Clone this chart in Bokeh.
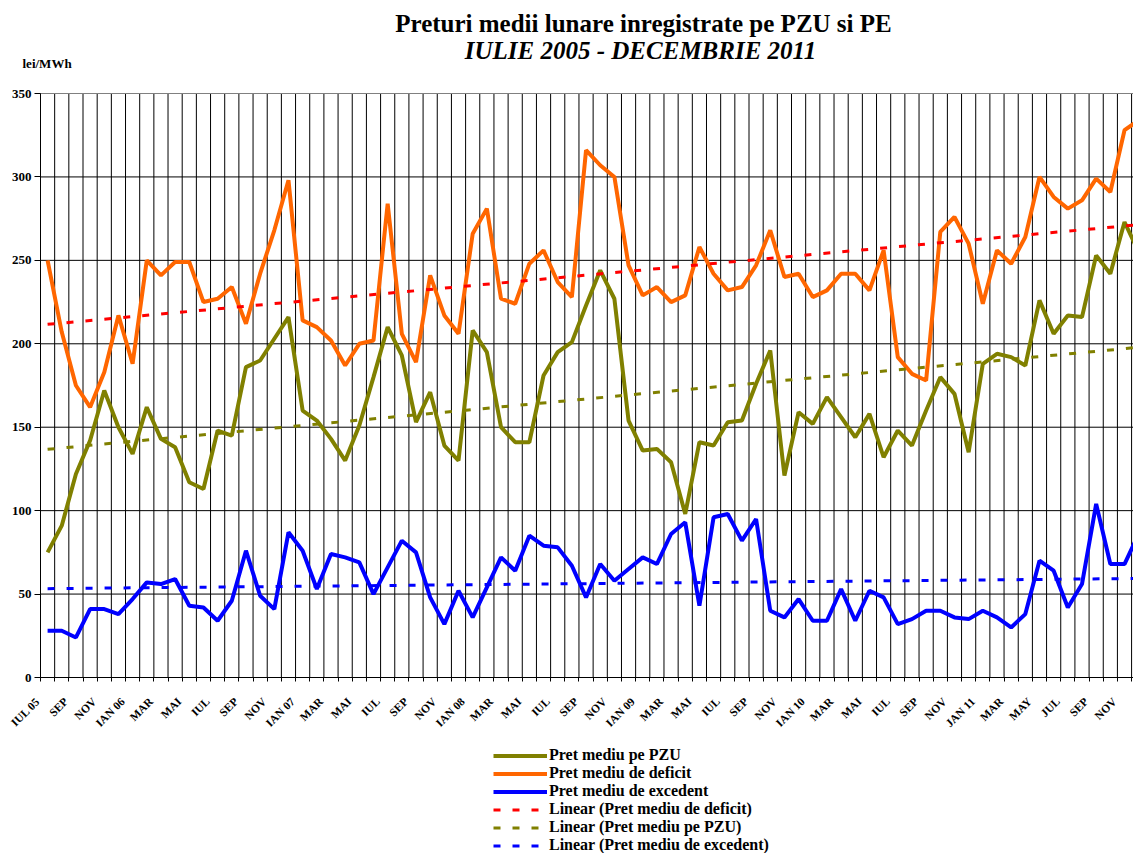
import numpy as np
from bokeh.plotting import figure
from bokeh.models import Range1d, FixedTicker, Label, Legend, LegendItem, ColumnDataSource
from bokeh.embed import file_html
from bokeh.resources import INLINE

# ---- data (monthly, Jul 2005 .. Dec 2011) ----
tick_labels = ["IUL 05", "SEP", "NOV",
               "IAN 06", "MAR", "MAI", "IUL", "SEP", "NOV",
               "IAN 07", "MAR", "MAI", "IUL", "SEP", "NOV",
               "IAN 08", "MAR", "MAI", "IUL", "SEP", "NOV",
               "IAN 09", "MAR", "MAI", "IUL", "SEP", "NOV",
               "IAN 10", "MAR", "MAI", "IUL", "SEP", "NOV",
               "JAN 11", "MAR", "MAY", "JUL", "SEP", "NOV"]

pzu = [75, 91, 122, 142, 172, 150,
       134, 162, 143, 138, 117, 113, 148, 145, 186, 190, 203, 216,
       160, 154, 143, 130, 151, 180, 210, 193, 153, 171, 139, 130,
       208, 195, 150, 141, 141, 181, 195, 201, 223, 244, 227, 154,
       136, 137, 129, 98, 141, 139, 153, 154, 176, 196, 121, 159,
       152, 168, 156, 144, 158, 132, 148, 139, 160, 180, 170, 135,
       188, 194, 192, 187, 226, 206, 217, 216, 253, 242, 273, 255]

deficit = [250, 207, 175, 162, 183, 217,
           188, 250, 241, 249, 249, 225, 227, 234, 212, 242, 268, 298,
           214, 210, 202, 187, 200, 202, 284, 206, 189, 241, 217, 206,
           266, 281, 227, 224, 248, 256, 237, 228, 316, 307, 300, 247,
           229, 234, 225, 229, 258, 242, 232, 234, 247, 268, 240, 242,
           228, 232, 242, 242, 232, 256, 192, 182, 178, 267, 276, 260,
           224, 256, 248, 264, 300, 288, 281, 286, 299, 291, 328, 334]

excedent = [28, 28, 24, 41, 41, 38,
            47, 57, 56, 59, 43, 42, 34, 46, 76, 49, 41, 87,
            76, 53, 74, 72, 69, 50, 66, 82, 75, 48, 32, 52,
            36, 54, 72, 64, 85, 79, 78, 67, 48, 68, 58, 65,
            72, 68, 86, 93, 43, 96, 98, 82, 95, 40, 36, 47,
            34, 34, 53, 34, 52, 48, 32, 35, 40, 40, 36, 35,
            40, 36, 30, 38, 70, 64, 42, 56, 104, 68, 68, 86]

y_ticks = list(range(0, 351, 50))
Y_MAX = 350

n = len(pzu)
idx = list(range(n))
bounds = [k - 0.5 for k in range(n + 1)]
LABEL_SHIFT = 0.7       # month labels sit slightly left of their month
label_pos = [i - LABEL_SHIFT for i in range(0, n, 2)]

FONT = "Liberation Serif"

# layout geometry (pixels of the page)
W, H = 1133, 853
PLOT_LEFT = 40          # where the value axis sits
PLOT_TOP = 93           # pixel row of the top gridline
PLOT_BOTTOM = 677       # pixel row of the zero line
CAT_PX = 14.17          # pixels per month
px_per_unit = (PLOT_BOTTOM - PLOT_TOP) / Y_MAX

x_start = -0.5 - PLOT_LEFT / CAT_PX
x_end = -0.5 + (W - PLOT_LEFT) / CAT_PX
y_start = -(H - PLOT_BOTTOM) / px_per_unit
y_end = PLOT_BOTTOM / px_per_unit

p = figure(width=W, height=H,
           x_range=Range1d(x_start, x_end), y_range=Range1d(y_start, y_end),
           output_backend="svg", toolbar_location=None,
           min_border_left=0, min_border_right=0,
           min_border_top=0, min_border_bottom=0)
p.outline_line_color = None
p.background_fill_color = "white"
p.border_fill_color = "white"
p.xgrid.visible = False
p.ygrid.visible = False

# grid lines drawn within the plotting area only
p.segment(x0=bounds, y0=[0] * len(bounds), x1=bounds, y1=[Y_MAX] * len(bounds),
          line_color="black", line_width=1)
h_colors = ["#808080" if t == Y_MAX else "black" for t in y_ticks]
p.segment(x0=[-0.5] * len(y_ticks), y0=y_ticks, x1=[n - 0.5] * len(y_ticks), y1=y_ticks,
          line_color=h_colors, line_width=1)

# x axis (fixed on the zero line)
xa = p.xaxis[0]
xa.fixed_location = 0
xa.ticker = FixedTicker(ticks=label_pos, minor_ticks=bounds)
xa.bounds = (-0.5, n - 0.5)
xa.major_label_overrides = {pos: lab for pos, lab in zip(label_pos, tick_labels)}
xa.major_label_orientation = np.pi / 4
xa.major_tick_line_color = None
xa.minor_tick_line_color = "black"
xa.minor_tick_out = 4
xa.minor_tick_in = 0
xa.axis_line_color = "black"
xa.major_label_text_font = FONT
xa.major_label_text_font_style = "bold"
xa.major_label_text_font_size = "11.5px"
xa.major_label_text_color = "black"
xa.major_label_standoff = 16

# y axis (fixed at the left edge of the category area)
ya = p.yaxis[0]
ya.fixed_location = -0.5
ya.bounds = (0, Y_MAX)
ya.ticker = FixedTicker(ticks=y_ticks, minor_ticks=[])
ya.major_tick_out = 6
ya.major_tick_in = 0
ya.minor_tick_line_color = None
ya.axis_line_color = "black"
ya.major_label_text_font = FONT
ya.major_label_text_font_style = "bold"
ya.major_label_text_font_size = "13px"
ya.major_label_text_color = "black"
ya.major_label_standoff = 3

# series
src = ColumnDataSource(dict(x=idx, pzu=pzu, deficit=deficit, excedent=excedent))
r_pzu = p.line("x", "pzu", source=src, line_color="#808000", line_width=4)
r_def = p.line("x", "deficit", source=src, line_color="#FF6600", line_width=4)
r_exc = p.line("x", "excedent", source=src, line_color="#0000FF", line_width=4)

# linear trend lines (least squares, as Excel "Linear" trendline)
def trend(series):
    a, b = np.polyfit(idx, series, 1)
    xs = [0, n - 1]
    return xs, [a * xs[0] + b, a * xs[1] + b]

tx, ty = trend(deficit)
r_tdef = p.line(tx, ty, line_color="#FF0000", line_width=3, line_dash="7 12")
tx, ty = trend(pzu)
r_tpzu = p.line(tx, ty, line_color="#808000", line_width=3, line_dash="7 12")
tx, ty = trend(excedent)
r_texc = p.line(tx, ty, line_color="#0000FF", line_width=3, line_dash="7 12")

legend = Legend(items=[
    LegendItem(label="Pret mediu pe PZU", renderers=[r_pzu]),
    LegendItem(label="Pret mediu de deficit", renderers=[r_def]),
    LegendItem(label="Pret mediu de excedent", renderers=[r_exc]),
    LegendItem(label="Linear (Pret mediu de deficit)", renderers=[r_tdef]),
    LegendItem(label="Linear (Pret mediu pe PZU)", renderers=[r_tpzu]),
    LegendItem(label="Linear (Pret mediu de excedent)", renderers=[r_texc]),
], location=(493, -1), orientation="vertical")
legend.padding = 0
legend.margin = 0
legend.spacing = -1
legend.label_height = 17
legend.glyph_height = 17
legend.glyph_width = 54
legend.label_standoff = 2
legend.label_text_font = FONT
legend.label_text_font_style = "bold"
legend.label_text_font_size = "16px"
legend.label_text_color = "black"
legend.background_fill_alpha = 0
legend.border_line_alpha = 0
p.add_layout(legend)

# titles and unit label (positions given as page pixels from the top-left)
def screen_label(text, x_px, y_px, size, style, align="center"):
    return Label(x=x_px, y=H - y_px, x_units="screen", y_units="screen",
                 text=text, text_align=align, text_baseline="middle",
                 text_font=FONT, text_font_style=style, text_font_size=size,
                 text_color="black")

p.add_layout(screen_label("Preturi medii lunare inregistrate pe PZU si PE", 643, 23, "25px", "bold"))
p.add_layout(screen_label("IULIE 2005 - DECEMBRIE 2011", 640, 50, "25px", "bold italic"))
p.add_layout(screen_label("lei/MWh", 22, 63, "13px", "bold", align="left"))

open("out.html", "w").write(file_html(p, INLINE))
